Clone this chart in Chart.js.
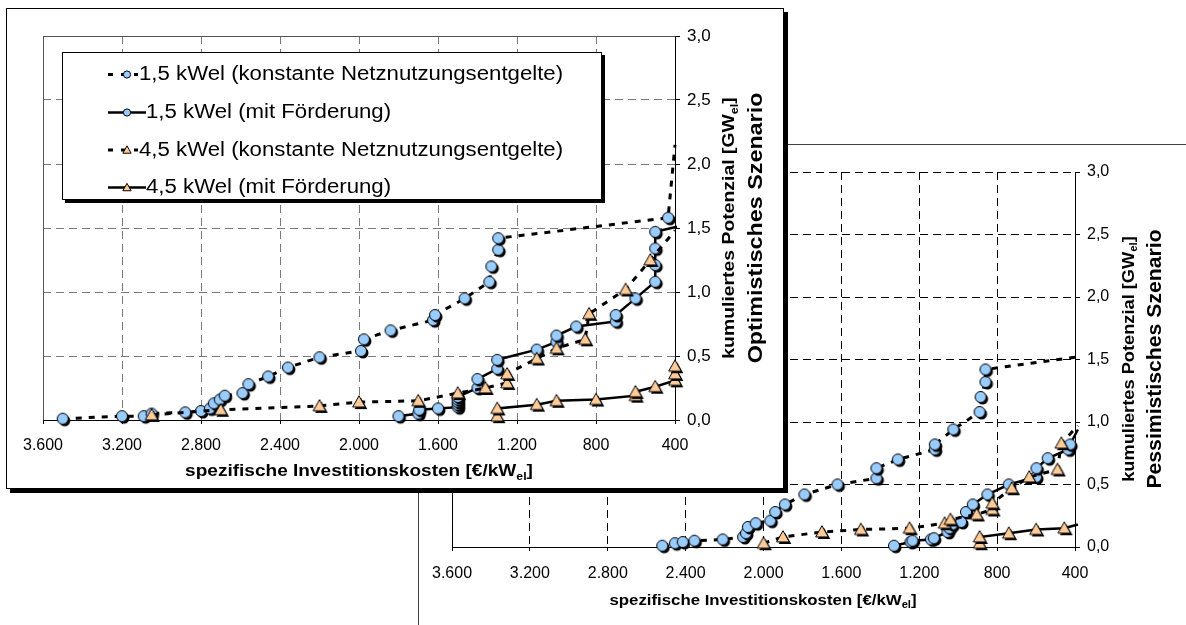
<!DOCTYPE html>
<html><head><meta charset="utf-8">
<script src="https://cdn.jsdelivr.net/npm/chart.js@4"></script>
<style>
html,body{margin:0;padding:0;background:#fff;width:1186px;height:625px;overflow:hidden;position:relative;}
#back{position:absolute;left:418px;top:144px;width:768px;height:481px;border-left:1px solid #404040;border-top:1px solid #404040;box-sizing:border-box;background:#fff;}
#front{position:absolute;left:6px;top:8px;width:778px;height:481px;border:1px solid #000;box-sizing:border-box;background:#fff;box-shadow:4px 4px 0 #000;}
canvas{position:absolute;left:0;top:0;}
</style></head>
<body>
<div id="back"><canvas id="cb" width="767" height="480"></canvas></div>
<div id="front"><canvas id="cf" width="776" height="479"></canvas></div>
<script>
// ---------- data ----------
const xTickValues = [3600, 3200, 2800, 2400, 2000, 1600, 1200, 800, 400];
const yTickValues = [0, 0.5, 1.0, 1.5, 2.0, 2.5, 3.0];
const seriesNames = [
  '1,5 kWel (konstante Netznutzungsentgelte)',
  '1,5 kWel (mit Förderung)',
  '4,5 kWel (konstante Netznutzungsentgelte)',
  '4,5 kWel (mit Förderung)'
];
// Optimistisches Szenario
const optCost15K = [3500,3200,3090,3050,2880,2800,2755,2735,2705,2680,2590,2560,2460,2360,2200,1990,1975,1840,1625,1615,1465,1340,1330,1295,1295,435,400];
const optPot15K  = [0.01,0.03,0.03,0.05,0.06,0.07,0.09,0.13,0.16,0.19,0.21,0.28,0.34,0.41,0.49,0.54,0.63,0.70,0.78,0.82,0.95,1.08,1.20,1.33,1.42,1.58,2.15];
const optCost15F = [1800,1700,1695,1600,1500,1500,1500,1500,1500,1400,1400,1300,1300,1100,1000,1000,900,700,700,600,500,500,500,500,390];
const optPot15F  = [0.03,0.05,0.08,0.09,0.10,0.12,0.14,0.16,0.18,0.25,0.32,0.40,0.47,0.55,0.61,0.66,0.73,0.77,0.82,0.95,1.08,1.21,1.34,1.47,1.51];
const optCost45K = [3050,2700,2200,2000,1700,1500,1360,1250,1250,1100,1000,855,835,650,525,400];
const optPot45K  = [0.04,0.08,0.11,0.14,0.15,0.21,0.25,0.29,0.36,0.48,0.56,0.63,0.83,1.02,1.25,1.48];
const optCost45F = [1300,1300,1100,1000,800,600,600,500,400,400,400];
const optPot45F  = [0.03,0.09,0.12,0.15,0.16,0.19,0.22,0.26,0.31,0.36,0.42];
// Pessimistisches Szenario
const pesCost15K = [2520,2455,2415,2355,2210,2105,2090,2080,2040,1965,1940,1890,1790,1620,1420,1420,1310,1120,1120,1025,890,885,860,860,390];
const pesPot15K  = [0.01,0.03,0.04,0.05,0.06,0.08,0.11,0.16,0.19,0.21,0.28,0.34,0.42,0.50,0.55,0.63,0.70,0.78,0.82,0.94,1.08,1.20,1.32,1.42,1.52];
const pesCost15F = [1330,1245,1235,1140,1125,1055,1045,1030,985,960,925,850,740,600,598,540,435,425,385];
const pesPot15F  = [0.01,0.04,0.05,0.06,0.07,0.12,0.15,0.18,0.20,0.28,0.34,0.42,0.50,0.56,0.63,0.71,0.78,0.82,0.94];
const pesCost45K = [2000,1900,1700,1500,1250,1070,1040,905,825,825,725,635,490,470,385];
const pesPot45K  = [0.03,0.08,0.12,0.14,0.15,0.19,0.22,0.26,0.30,0.35,0.47,0.56,0.62,0.83,0.97];
const pesCost45F = [890,890,740,600,455,385];
const pesPot45F  = [0.03,0.08,0.11,0.14,0.15,0.18];

// ---------- styling helpers ----------
const FAM = '"Liberation Sans", Arial, sans-serif';
const BLUE = '#99CCFF', PEACH = '#FFCC99';

function shapePath(g, kind, cx, cy, s) {
  g.beginPath();
  if (kind === 'circle') { g.arc(cx, cy, s, 0, Math.PI * 2); }
  else { g.moveTo(cx, cy - s * 1.15); g.lineTo(cx + s * 1.15, cy + s * 0.9); g.lineTo(cx - s * 1.15, cy + s * 0.9); g.closePath(); }
}
function makeMarker(kind, fill) {
  const c = document.createElement('canvas');
  c.width = 20; c.height = 20;
  const g = c.getContext('2d');
  shapePath(g, kind, 12, 12, 5.5); g.fillStyle = '#000'; g.fill();
  shapePath(g, kind, 10, 10, 5.5); g.fillStyle = fill; g.fill();
  g.lineWidth = 1; g.strokeStyle = '#000'; g.stroke();
  return c;
}
const circleImg = makeMarker('circle', BLUE);
const triImg = makeMarker('tri', PEACH);

function pts(xs, ys) { return xs.map((x, i) => ({ x: x, y: ys[i] })); }
function ds(xs, ys, kind, dashed, order, lastMarker) {
  const n = xs.length;
  return {
    data: pts(xs, ys),
    borderColor: '#000',
    borderWidth: dashed ? 3 : 2.5,
    borderDash: dashed ? [6, 7] : [],
    pointStyle: kind === 'circle' ? circleImg : triImg,
    pointRadius: (c) => (!lastMarker && c.dataIndex === n - 1) ? 0 : 5,
    tension: 0,
    fill: false,
    clip: false,
    order: order
  };
}
function fmtX(v) { return v >= 1000 ? Math.floor(v / 1000) + '.' + String(v % 1000).padStart(3, '0') : String(v); }
function fmtY(v) { return v.toFixed(1).replace('.', ','); }

// text drawn centered at (bx, by) on its baseline; sx stretches along the reading direction
function drawRich(ctx, parts, bx, by, rot, sx) {
  ctx.save();
  ctx.translate(bx, by);
  if (rot) ctx.rotate(-Math.PI / 2);
  ctx.scale(sx || 1, 1);
  let total = 0;
  parts.forEach(p => { ctx.font = (p.b ? 'bold ' : '') + p.s + 'px ' + FAM; p.w = ctx.measureText(p.t).width; total += p.w; });
  let x = -total / 2;
  ctx.fillStyle = '#000'; ctx.textAlign = 'left'; ctx.textBaseline = 'alphabetic';
  parts.forEach(p => { ctx.font = (p.b ? 'bold ' : '') + p.s + 'px ' + FAM; ctx.fillText(p.t, x, p.dy || 0); x += p.w; });
  ctx.restore();
}

function scalesCfg(o) {
  return {
    x: {
      type: 'linear', min: 400, max: 3600, reverse: true,
      afterBuildTicks: (s) => { s.ticks = xTickValues.map(v => ({ value: v })); },
      afterFit: (s) => { s.height = o.xh; },
      ticks: { callback: fmtX, color: '#000', font: { family: FAM, size: 16 }, padding: o.xpad, maxRotation: 0, autoSkip: false },
      grid: { color: o.grid, lineWidth: 1, tickLength: 4, tickColor: '#000', tickBorderDash: [] },
      border: { color: '#000', width: 1, dash: o.dash }
    },
    y: {
      type: 'linear', position: 'right', min: 0, max: 3,
      afterBuildTicks: (s) => { s.ticks = yTickValues.map(v => ({ value: v })); },
      afterFit: (s) => { s.width = o.yw; },
      ticks: { callback: fmtY, color: '#000', font: { family: FAM, size: o.yfs }, padding: 7, autoSkip: false },
      grid: { color: o.grid, lineWidth: 1, tickLength: 5, tickColor: '#000', tickBorderDash: [] },
      border: { color: '#000', width: 1, dash: o.dash }
    }
  };
}

// ---------- back chart (Pessimistisches Szenario) ----------
const backPlugin = {
  id: 'backDeco',
  beforeDatasetsDraw(chart) {
    const { ctx, chartArea: a } = chart;
    ctx.save(); ctx.strokeStyle = '#000'; ctx.lineWidth = 1;
    ctx.beginPath(); ctx.moveTo(a.left + 0.5, a.top); ctx.lineTo(a.left + 0.5, a.bottom); ctx.stroke();
    ctx.restore();
  },
  afterDraw(chart) {
    const ctx = chart.ctx;
    drawRich(ctx, [{ t: 'spezifische Investitionskosten [€/kW', s: 15, b: 1 }, { t: 'el', s: 10, b: 1, dy: 3 }, { t: ']', s: 15, b: 1 }], 344, 460, false, 1.12);
    drawRich(ctx, [{ t: 'kumuliertes Potenzial [GW', s: 16, b: 1 }, { t: 'el', s: 10, b: 1, dy: 3 }, { t: ']', s: 16, b: 1 }], 715, 214, true, 1.14);
    drawRich(ctx, [{ t: 'Pessimistisches Szenario', s: 20, b: 1 }], 742, 214, true, 1.06);
  }
};
new Chart(document.getElementById('cb'), {
  type: 'line',
  data: { datasets: [
    ds(pesCost15K, pesPot15K, 'circle', true, 4, false),
    ds(pesCost15F, pesPot15F, 'circle', false, 3, false),
    ds(pesCost45K, pesPot45K, 'tri', true, 2, false),
    ds(pesCost45F, pesPot45F, 'tri', false, 1, false)
  ] },
  options: {
    responsive: false, animation: false, devicePixelRatio: 1, events: [],
    layout: { padding: { left: 33, top: 27, right: 0, bottom: 0 } },
    plugins: { legend: { display: false }, tooltip: { enabled: false } },
    scales: scalesCfg({ xh: 78, yw: 111, xpad: 13, grid: '#000', dash: [8, 5], yfs: 16 })
  },
  plugins: [backPlugin]
});

// ---------- front chart (Optimistisches Szenario) ----------
const frontPlugin = {
  id: 'frontDeco',
  beforeDatasetsDraw(chart) {
    const { ctx, chartArea: a } = chart;
    ctx.save(); ctx.strokeStyle = '#555'; ctx.lineWidth = 1;
    ctx.beginPath();
    ctx.moveTo(a.left + 0.5, a.bottom); ctx.lineTo(a.left + 0.5, a.top + 0.5); ctx.lineTo(a.right, a.top + 0.5);
    ctx.stroke(); ctx.restore();
  },
  afterDraw(chart) {
    const ctx = chart.ctx;
    drawRich(ctx, [{ t: 'spezifische Investitionskosten [€/kW', s: 17, b: 1 }, { t: 'el', s: 11, b: 1, dy: 4 }, { t: ']', s: 17, b: 1 }], 352, 467, false, 1.12);
    drawRich(ctx, [{ t: 'kumuliertes Potenzial [GW', s: 17, b: 1 }, { t: 'el', s: 11, b: 1, dy: 4 }, { t: ']', s: 17, b: 1 }], 727, 219, true, 1.14);
    drawRich(ctx, [{ t: 'Optimistisches Szenario', s: 21, b: 1 }], 755, 219, true, 1.11);
    // legend
    const L = { x: 55, y: 43, w: 540, h: 148 };
    ctx.save();
    ctx.fillStyle = '#000'; ctx.fillRect(L.x + 3, L.y + 3, L.w, L.h);
    ctx.fillStyle = '#fff'; ctx.fillRect(L.x, L.y, L.w, L.h);
    ctx.strokeStyle = '#000'; ctx.lineWidth = 1; ctx.strokeRect(L.x + 0.5, L.y + 0.5, L.w - 1, L.h - 1);
    const rowsY = [65.5, 103.5, 141, 178.5];
    const kinds = ['circle', 'circle', 'tri', 'tri'];
    const dashed = [true, false, true, false];
    rowsY.forEach((y, i) => {
      ctx.save();
      ctx.strokeStyle = '#000';
      ctx.lineWidth = dashed[i] ? 3 : 2.5;
      ctx.setLineDash(dashed[i] ? [5, 8] : []);
      ctx.beginPath(); ctx.moveTo(101, y); ctx.lineTo(dashed[i] ? 131 : 139, y); ctx.stroke();
      ctx.setLineDash([]);
      shapePath(ctx, kinds[i], 120, y, 3.6);
      ctx.fillStyle = kinds[i] === 'circle' ? BLUE : PEACH; ctx.fill();
      ctx.lineWidth = 1; ctx.stroke();
      ctx.restore();
      ctx.save();
      ctx.translate(dashed[i] ? 132 : 139, y);
      ctx.scale(1.11, 1);
      ctx.fillStyle = '#000'; ctx.font = '20px ' + FAM; ctx.textBaseline = 'middle'; ctx.textAlign = 'left';
      ctx.fillText(seriesNames[i], 0, 0);
      ctx.restore();
    });
    ctx.restore();
  }
};
new Chart(document.getElementById('cf'), {
  type: 'line',
  data: { datasets: [
    ds(optCost15K, optPot15K, 'circle', true, 4, false),
    ds(optCost15F, optPot15F, 'circle', false, 3, false),
    ds(optCost45K, optPot45K, 'tri', true, 2, false),
    ds(optCost45F, optPot45F, 'tri', false, 1, true)
  ] },
  options: {
    responsive: false, animation: false, devicePixelRatio: 1, events: [],
    layout: { padding: { left: 36, top: 27, right: 0, bottom: 0 } },
    plugins: { legend: { display: false }, tooltip: { enabled: false } },
    scales: scalesCfg({ xh: 68, yw: 108, xpad: 12, grid: '#7a7a7a', dash: [8, 5], yfs: 17 })
  },
  plugins: [frontPlugin]
});
</script>
</body></html>
